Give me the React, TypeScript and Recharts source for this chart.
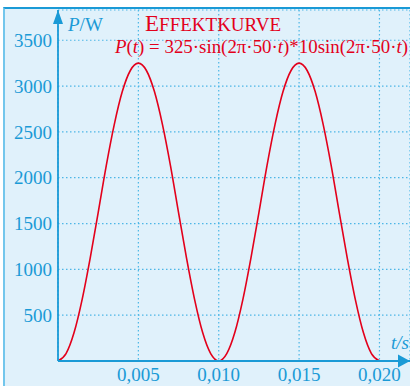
import { LineChart, Line, XAxis, YAxis, CartesianGrid, ReferenceDot } from 'recharts'

// time (s) and power (W)
const times = [
  0, 0.0005, 0.001, 0.0015, 0.002, 0.0025, 0.003, 0.0035, 0.004, 0.0045,
  0.005, 0.0055, 0.006, 0.0065, 0.007, 0.0075, 0.008, 0.0085, 0.009, 0.0095,
  0.01, 0.0105, 0.011, 0.0115, 0.012, 0.0125, 0.013, 0.0135, 0.014, 0.0145,
  0.015, 0.0155, 0.016, 0.0165, 0.017, 0.0175, 0.018, 0.0185, 0.019, 0.0195, 0.02
]
const power = [
  0, 80, 310, 670, 1120, 1620, 2130, 2580, 2940, 3170,
  3250, 3170, 2940, 2580, 2130, 1620, 1120, 670, 310, 80,
  0, 80, 310, 670, 1120, 1620, 2130, 2580, 2940, 3170,
  3250, 3170, 2940, 2580, 2130, 1620, 1120, 670, 310, 80, 0
]

const xTicks = [0.005, 0.01, 0.015, 0.02]
const xTickLabels = ['0,005', '0,010', '0,015', '0,020']
const yTicks = [500, 1000, 1500, 2000, 2500, 3000, 3500]

const X_MAX = 0.0219
const Y_MAX = 3830

const BLUE = '#1a9ad6'
const RED = '#e3001b'
const FONT = '"Liberation Serif", "DejaVu Serif", serif'

const data = times.map((t, i) => ({ t, p: power[i] }))

export default function App() {
  return (
    <div style={{ position: 'absolute', left: 0, top: 0, width: 410, height: 386, background: '#fff', overflow: 'hidden' }}>
      {/* light blue panel with top / left border */}
      <div
        style={{
          position: 'absolute',
          left: 3,
          top: 7,
          right: 0,
          bottom: 0,
          background: '#e0f1fb',
          borderTop: `2px solid ${BLUE}`,
          borderLeft: '2px solid #72c6ec'
        }}
      />
      <div style={{ position: 'absolute', left: 0, top: 0 }}>
        <LineChart width={410} height={386} data={data} margin={{ top: 10, right: 0, bottom: 0, left: 0 }}>
          <CartesianGrid stroke="#4cb6e6" strokeDasharray="1.5 2.5" strokeWidth={1.2} />
          <XAxis
            dataKey="t"
            type="number"
            domain={[0, X_MAX]}
            ticks={xTicks}
            tickFormatter={(v: number) => xTickLabels[xTicks.indexOf(v)] ?? ''}
            height={25}
            tickSize={0}
            tickMargin={7}
            axisLine={{ stroke: BLUE, strokeWidth: 1.8 }}
            tickLine={false}
            tick={{ fill: BLUE, fontSize: 19, fontFamily: FONT }}
          />
          <YAxis
            type="number"
            domain={[0, Y_MAX]}
            ticks={yTicks}
            width={58}
            tickSize={0}
            tickMargin={6}
            axisLine={{ stroke: BLUE, strokeWidth: 1.8 }}
            tickLine={false}
            tick={{ fill: BLUE, fontSize: 19, fontFamily: FONT }}
          />
          <Line type="monotone" dataKey="p" stroke={RED} strokeWidth={1.6} dot={false} isAnimationActive={false} />
          {/* arrow heads */}
          <ReferenceDot
            x={X_MAX}
            y={0}
            ifOverflow="visible"
            shape={(props: any) => (
              <path d={`M${props.cx},${props.cy} L${props.cx - 12},${props.cy - 6.5} L${props.cx - 12},${props.cy + 6.5} Z`} fill={BLUE} />
            )}
          />
          <ReferenceDot
            x={0}
            y={Y_MAX}
            ifOverflow="visible"
            shape={(props: any) => (
              <path d={`M${props.cx},${props.cy} L${props.cx - 5},${props.cy + 14} L${props.cx + 5},${props.cy + 14} Z`} fill={BLUE} />
            )}
          />
        </LineChart>
      </div>
      <svg width={410} height={386} style={{ position: 'absolute', left: 0, top: 0, pointerEvents: 'none' }}>
        <text x={68} y={31} fill={BLUE} fontSize={19} fontFamily={FONT}>
          <tspan fontStyle="italic">P</tspan>/W
        </text>
        <text x={391} y={349} fill={BLUE} fontSize={19} fontFamily={FONT} fontStyle="italic">
          t/s
        </text>
        <text x={145} y={31} fill={RED} fontFamily={FONT}>
          <tspan fontSize={23}>E</tspan>
          <tspan fontSize={19}>FFEKTKURVE</tspan>
        </text>
        <text x={115} y={53} fill={RED} fontSize={18} fontFamily={FONT} textLength={293} lengthAdjust="spacingAndGlyphs">
          <tspan fontStyle="italic">P</tspan>(<tspan fontStyle="italic">t</tspan>) = 325·sin(2π·50·<tspan fontStyle="italic">t</tspan>)*10sin(2π·50·<tspan fontStyle="italic">t</tspan>)
        </text>
      </svg>
    </div>
  )
}
